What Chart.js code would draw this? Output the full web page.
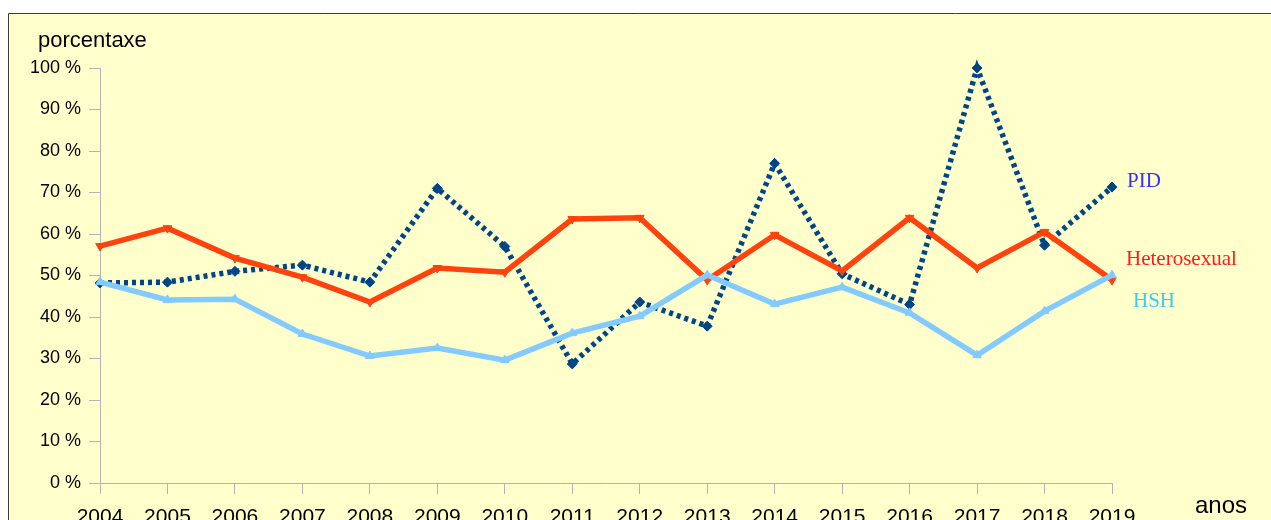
<!DOCTYPE html>
<html>
<head>
<meta charset="utf-8">
<title>porcentaxe</title>
<script src="https://cdn.jsdelivr.net/npm/chart.js@4/dist/chart.umd.min.js"></script>
<style>
  html, body { margin: 0; padding: 0; background: #fff; }
  #wrap { width: 1271px; height: 520px; }
</style>
</head>
<body>
<div id="wrap"><canvas id="chart" width="1271" height="520"></canvas></div>
<script>
// data
const years = ['2004', '2005', '2006', '2007', '2008', '2009', '2010', '2011',
               '2012', '2013', '2014', '2015', '2016', '2017', '2018', '2019'];
const pid = [48.2, 48.4, 51, 52.5, 48.4, 71, 57, 28.7, 43.6, 37.8, 77, 50.4, 43, 100, 57.3, 71.3];
const hetero = [57.1, 61.4, 54.2, 49.6, 43.6, 51.8, 50.8, 63.6, 63.9, 48.9, 59.8, 51.1, 63.9, 51.8, 60.5, 48.9];
const hsh = [48.4, 44.1, 44.3, 35.9, 30.6, 32.5, 29.6, 36.1, 40.2, 50.1, 43.1, 47.2, 41, 30.8, 41.4, 50.1];
const yTicks = [0, 10, 20, 30, 40, 50, 60, 70, 80, 90, 100];

const axisGray = '#b3b3b3';

// background, frame and the loose texts
const decor = {
  id: 'decor',
  beforeDraw(chart) {
    const c = chart.ctx;
    c.save();
    c.fillStyle = '#ffffff';
    c.fillRect(0, 0, chart.width, chart.height);
    c.fillStyle = '#ffffcc';
    c.fillRect(8, 13, chart.width - 8, chart.height - 13);
    c.strokeStyle = '#3c3c3c';
    c.lineWidth = 1;
    c.beginPath();
    c.moveTo(8.5, chart.height);
    c.lineTo(8.5, 13.5);
    c.lineTo(chart.width, 13.5);
    c.stroke();
    c.restore();
  },
  afterDraw(chart) {
    const c = chart.ctx;
    c.save();
    c.textBaseline = 'middle';
    c.fillStyle = '#000';
    c.font = '22px "Liberation Sans", Arial, sans-serif';
    c.fillText('porcentaxe', 38, 41);
    c.font = '24px "Liberation Sans", Arial, sans-serif';
    c.fillText('anos', 1195, 506);

    c.font = '21px "Liberation Serif", "Times New Roman", serif';
    c.fillStyle = '#3333ff';
    c.fillText('PID', 1127, 181);
    c.fillStyle = '#ff1a1a';
    c.fillText('Heterosexual', 1126, 259);
    c.fillStyle = '#33ccff';
    c.fillText('HSH', 1133, 301);
    c.restore();
  }
};

new Chart(document.getElementById('chart'), {
  type: 'line',
  data: {
    labels: years,
    datasets: [
      {
        label: 'HSH',
        data: hsh,
        borderColor: '#83caff',
        backgroundColor: '#83caff',
        borderWidth: 5.5,
        pointStyle: 'triangle',
        pointRadius: 5,
        pointBorderWidth: 1,
        tension: 0,
        clip: false
      },
      {
        label: 'Heterosexual',
        data: hetero,
        borderColor: '#ff420e',
        backgroundColor: '#ff420e',
        borderWidth: 5.5,
        pointStyle: 'triangle',
        pointRotation: 180,
        pointRadius: 5,
        pointBorderWidth: 1,
        tension: 0,
        clip: false
      },
      {
        label: 'PID',
        data: pid,
        borderColor: '#004586',
        backgroundColor: '#004586',
        borderWidth: 5.5,
        borderDash: [4, 4],
        borderCapStyle: 'butt',
        pointStyle: 'rectRot',
        pointRadius: 5,
        pointBorderWidth: 1,
        tension: 0,
        clip: false
      }
    ]
  },
  options: {
    responsive: false,
    animation: false,
    layout: { padding: { left: 20, right: 159, top: 68, bottom: 0 } },
    plugins: {
      legend: { display: false },
      tooltip: { enabled: false }
    },
    scales: {
      x: {
        offset: false,
        grid: { drawOnChartArea: false, drawTicks: true, tickLength: 11, color: axisGray, offset: false },
        border: { display: true, color: axisGray, width: 1 },
        ticks: {
          color: '#000',
          font: { family: '"Liberation Sans", Arial, sans-serif', size: 21 },
          padding: 11,
          maxRotation: 0,
          autoSkip: false
        },
        afterFit(scale) { scale.height = 37; }
      },
      y: {
        min: 0,
        max: 100,
        afterBuildTicks(scale) { scale.ticks = yTicks.map(v => ({ value: v })); },
        grid: { drawOnChartArea: false, drawTicks: true, tickLength: 11, color: axisGray },
        border: { display: true, color: axisGray, width: 1 },
        ticks: {
          color: '#000',
          font: { family: '"Liberation Sans", Arial, sans-serif', size: 18 },
          padding: 8,
          callback: v => v + ' %'
        },
        afterFit(scale) { scale.width = 80; }
      }
    }
  },
  plugins: [decor]
});
</script>
</body>
</html>
